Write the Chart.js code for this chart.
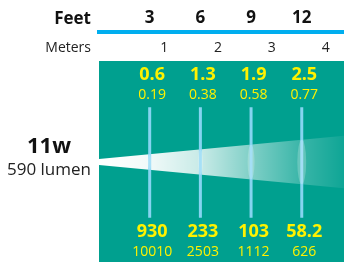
<!DOCTYPE html>
<html>
<head>
<meta charset="utf-8">
<script src="https://cdn.jsdelivr.net/npm/chart.js@4.4.1/dist/chart.umd.min.js"></script>
<style>
  body { margin: 0; background: #fff; }
  #wrap { width: 344px; height: 262px; }
</style>
</head>
<body>
<div id="wrap"><canvas id="lampChart"></canvas></div>
<script>
// distances
var feet = [3, 6, 9, 12];
var meters = [1, 2, 3, 4];

// beam diameter at each distance
var beamFeet = [0.6, 1.3, 1.9, 2.5];
var beamMeters = [0.19, 0.38, 0.58, 0.77];

// light at each distance
var footCandles = [930, 233, 103, 58.2];
var lux = [10010, 2503, 1112, 626];

// beam cone (half width, drawing units)
var beamX = [0, 14.5];
var beamTop = [2.5, 25.5];
var beamBottom = [-3.5, -26.5];

// distance marker lines
var markerTop = 54;
var markerBottom = -56;

var teal = "#00a08f";
var yellow = "#fff200";
var font = "'Open Sans', sans-serif";

function beamAt(arr, f) {
  return arr[0] + (arr[1] - arr[0]) * (f - beamX[0]) / (beamX[1] - beamX[0]);
}

var panel = {
  id: "panel",
  beforeDraw: function(chart) {
    var a = chart.chartArea, ctx = chart.ctx;
    ctx.save();
    ctx.fillStyle = teal;
    ctx.fillRect(a.left, a.top, a.right - a.left, a.bottom - a.top);
    ctx.fillStyle = "#111";
    ctx.textAlign = "right";
    ctx.font = "bold 17px " + font;
    ctx.fillText("Feet", 91, 24);
    ctx.fillStyle = "#222";
    ctx.font = "14px " + font;
    ctx.fillText("Meters", 91, 52);
    ctx.fillStyle = "#111";
    ctx.textAlign = "center";
    ctx.font = "bold 22px " + font;
    ctx.fillText("11w", 49, 153);
    ctx.fillStyle = "#222";
    ctx.font = "17px " + font;
    ctx.fillText("590 lumen", 49, 175);
    ctx.restore();
  },
  afterDatasetsDraw: function(chart) {
    var ctx = chart.ctx, xs = chart.scales.x, ys = chart.scales.y;
    ctx.save();
    // light spots on the beam
    feet.forEach(function(f) {
      var px = xs.getPixelForValue(f);
      var t = ys.getPixelForValue(beamAt(beamTop, f));
      var b = ys.getPixelForValue(beamAt(beamBottom, f));
      var h = (b - t) / 2;
      ctx.beginPath();
      ctx.ellipse(px, (t + b) / 2, h * 0.2, h, 0, 0, Math.PI * 2);
      ctx.fillStyle = "rgba(255,255,255,0.22)";
      ctx.fill();
    });
    ctx.fillStyle = yellow;
    ctx.textAlign = "center";
    feet.forEach(function(f, i) {
      var px = xs.getPixelForValue(f) + 2.5;
      ctx.font = "bold 18px " + font;
      ctx.fillText(String(beamFeet[i]), px, 80);
      ctx.fillText(String(footCandles[i]), px, 237);
      ctx.font = "14px " + font;
      ctx.fillText(String(beamMeters[i]), px, 98.5);
      ctx.fillText(String(lux[i]), px, 255.5);
    });
    ctx.restore();
  }
};

var datasets = feet.map(function(f) {
  return {
    xAxisID: "x",
    data: [{x: f, y: markerTop}, {x: f, y: markerBottom}],
    borderColor: "rgba(140,215,245,0.95)",
    borderWidth: 3,
    pointRadius: 0,
    fill: false
  };
});

datasets.push({
  xAxisID: "x",
  data: beamX.map(function(x, i) { return {x: x, y: beamTop[i]}; }),
  borderWidth: 0,
  pointRadius: 0,
  fill: "+1",
  backgroundColor: function(c) {
    var a = c.chart.chartArea;
    if (!a) return "rgba(255,255,255,0.5)";
    var g = c.chart.ctx.createLinearGradient(a.left, 0, a.right, 0);
    g.addColorStop(0, "rgba(255,255,255,1)");
    g.addColorStop(0.2, "rgba(255,255,255,0.95)");
    g.addColorStop(0.42, "rgba(255,255,255,0.78)");
    g.addColorStop(0.62, "rgba(255,255,255,0.5)");
    g.addColorStop(0.83, "rgba(255,255,255,0.22)");
    g.addColorStop(1, "rgba(255,255,255,0.06)");
    return g;
  }
});
datasets.push({
  xAxisID: "x",
  data: beamX.map(function(x, i) { return {x: x, y: beamBottom[i]}; }),
  borderWidth: 0,
  pointRadius: 0,
  fill: false
});

new Chart(document.getElementById("lampChart"), {
  type: "line",
  data: { datasets: datasets },
  plugins: [panel],
  options: {
    responsive: true,
    maintainAspectRatio: false,
    animation: false,
    layout: { padding: { left: 99, top: 0, right: 0, bottom: 0 } },
    plugins: { legend: { display: false }, tooltip: { enabled: false } },
    scales: {
      x: {
        type: "linear", axis: "x", position: "top", weight: 2,
        min: 0, max: 14.5,
        afterBuildTicks: function(s) { s.ticks = feet.map(function(v) { return {value: v}; }); },
        afterFit: function(s) { s.height = 32; },
        grid: { display: false },
        border: { display: true, color: "#00aeef", width: 4 },
        ticks: { autoSkip: false, maxRotation: 0, minRotation: 0, padding: -3, color: "#111",
                 font: { family: font, size: 17, weight: "bold", lineHeight: 1 } }
      },
      m: {
        type: "linear", axis: "x", position: "top", weight: 1,
        min: -0.21, max: 4.34,
        afterBuildTicks: function(s) { s.ticks = meters.map(function(v) { return {value: v}; }); },
        afterFit: function(s) { s.height = 29; },
        grid: { display: false },
        border: { display: false },
        ticks: { autoSkip: false, maxRotation: 0, minRotation: 0, padding: -2, color: "#222",
                 font: { family: font, size: 14, lineHeight: 1 } }
      },
      y: { type: "linear", display: false, min: -100, max: 100 }
    }
  }
});
</script>
</body>
</html>
